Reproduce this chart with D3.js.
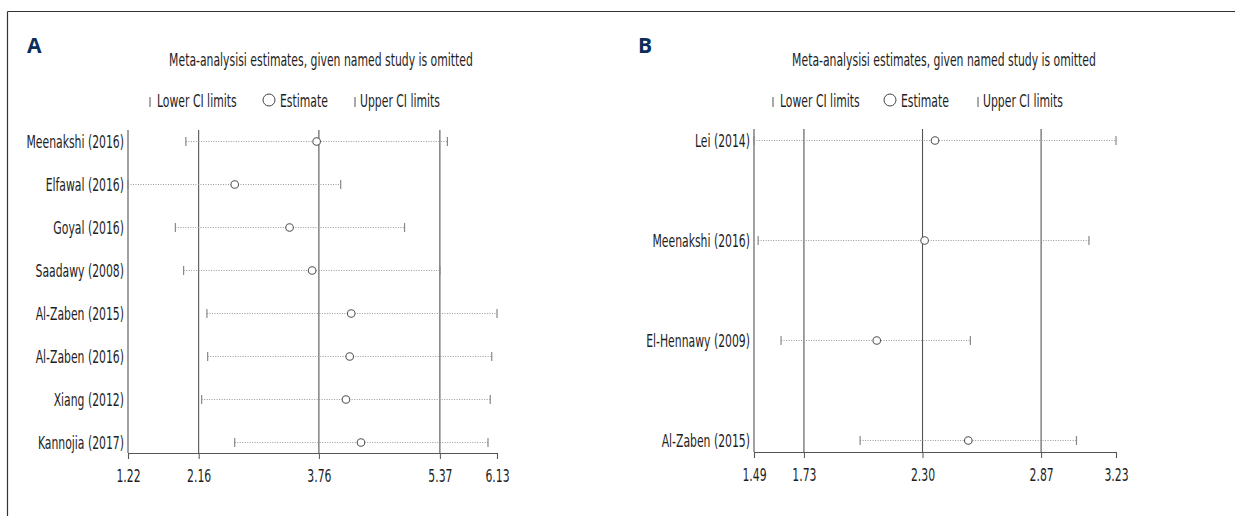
<!DOCTYPE html>
<html>
<head>
<meta charset="utf-8">
<script src="https://cdn.jsdelivr.net/npm/d3@7"></script>
<style>
  body { margin: 0; background: #fff; }
  svg text { font-family: "Liberation Sans Narrow", "DejaVu Sans Condensed", "Roboto Condensed", sans-serif; fill: #1e1e1e; font-size: 18px; }
</style>
</head>
<body>
<svg id="chart" width="1235" height="516"></svg>
<script>
// Panel A data
const studiesA = ["Meenakshi (2016)", "Elfawal (2016)", "Goyal (2016)", "Saadawy (2008)",
  "Al-Zaben (2015)", "Al-Zaben (2016)", "Xiang (2012)", "Kannojia (2017)"];
const lowerA = [1.99, 1.22, 1.85, 1.96, 2.27, 2.28, 2.20, 2.64];
const estA   = [3.73, 2.64, 3.37, 3.67, 4.19, 4.17, 4.12, 4.32];
const upperA = [5.47, 4.05, 4.90, 5.37, 6.13, 6.06, 6.04, 6.01];
const ticksA = [1.22, 2.16, 3.76, 5.37, 6.13];
const refA = [2.16, 3.76, 5.37];

// Panel B data
const studiesB = ["Lei (2014)", "Meenakshi (2016)", "El-Hennawy (2009)", "Al-Zaben (2015)"];
const lowerB = [1.49, 1.51, 1.62, 2.00];
const estB   = [2.36, 2.31, 2.08, 2.52];
const upperB = [3.23, 3.10, 2.53, 3.04];
const ticksB = [1.49, 1.73, 2.30, 2.87, 3.23];
const refB = [1.73, 2.30, 2.87];

const title = "Meta-analysisi estimates, given named study is omitted";

const svg = d3.select("#chart");

// the original uses a condensed face; measure the title and squeeze all text to match
const probe = svg.append("text").text(title);
const k = 304 / probe.node().getComputedTextLength();
probe.remove();

// condensed text helper: text at (x, y), squeezed horizontally around its anchor
function ctext(parent, x, y, str, anchor) {
  return parent.append("text")
    .attr("transform", `translate(${x},${y}) scale(${k},1)`)
    .attr("text-anchor", anchor || "start")
    .text(str);
}

// frame: top and left border
svg.append("line").attr("x1", 7.5).attr("x2", 1235).attr("y1", 11.5).attr("y2", 11.5)
  .attr("stroke", "#333").attr("stroke-width", 1.2);
svg.append("line").attr("x1", 7.5).attr("x2", 7.5).attr("y1", 11.5).attr("y2", 516)
  .attr("stroke", "#333").attr("stroke-width", 1.2);

function drawPanel(cfg) {
  const g = svg.append("g");

  // panel letter
  g.append("text").attr("x", cfg.letterX).attr("y", 53)
    .style("font-family", "'Open Sans', 'DejaVu Sans', sans-serif")
    .style("font-weight", "bold").style("font-size", "21px")
    .style("fill", "#0c2d5a").text(cfg.letter);

  // title
  ctext(g, cfg.titleX, 66, title, "middle");

  // legend
  const ly = 100;
  g.append("line").attr("x1", cfg.legX[0]).attr("x2", cfg.legX[0]).attr("y1", ly - 3).attr("y2", ly + 7)
    .attr("stroke", "#555");
  ctext(g, cfg.legX[0] + 7, ly + 6.5, "Lower CI limits");
  g.append("circle").attr("cx", cfg.legX[1]).attr("cy", ly).attr("r", 6)
    .attr("fill", "none").attr("stroke", "#444");
  ctext(g, cfg.legX[1] + 11, ly + 6.5, "Estimate");
  g.append("line").attr("x1", cfg.legX[2]).attr("x2", cfg.legX[2]).attr("y1", ly - 3).attr("y2", ly + 7)
    .attr("stroke", "#555");
  ctext(g, cfg.legX[2] + 5, ly + 6.5, "Upper CI limits");

  const x = d3.scaleLinear().domain(cfg.domain).range([cfg.left, cfg.right]);
  const y = d3.scalePoint().domain(cfg.studies).range([cfg.rowTop, cfg.rowBottom]);

  // reference lines
  g.selectAll(".ref").data(cfg.ref).enter().append("line")
    .attr("x1", d => x(d)).attr("x2", d => x(d))
    .attr("y1", cfg.top).attr("y2", cfg.axisY)
    .attr("stroke", "#555").attr("stroke-width", 1.1);

  // left axis line
  g.append("line").attr("x1", cfg.left).attr("x2", cfg.left).attr("y1", cfg.top).attr("y2", cfg.axisY)
    .attr("stroke", "#555").attr("stroke-width", 1.1);

  // bottom axis
  const axis = g.append("g").attr("transform", `translate(0,${cfg.axisY})`)
    .call(d3.axisBottom(x).tickValues(cfg.ticks).tickFormat(d3.format(".2f")).tickSize(6));
  axis.select(".domain").attr("stroke", "#555").attr("stroke-width", 1.1);
  axis.selectAll(".tick line").attr("stroke", "#555");
  axis.selectAll(".tick text")
    .attr("y", 29).attr("dy", 0)
    .attr("transform", `scale(${k},1)`)
    .style("font-size", "18px").style("fill", "#1e1e1e")
    .style("font-family", "'Liberation Sans Narrow', 'DejaVu Sans Condensed', sans-serif");

  // study labels
  cfg.studies.forEach(s => ctext(g, cfg.left - 4, y(s) + 6.5, s, "end"));

  const rows = cfg.studies.map((s, i) => ({ s, lo: cfg.lower[i], est: cfg.est[i], hi: cfg.upper[i] }));

  // dotted CI lines
  g.selectAll(".ci").data(rows).enter().append("line")
    .attr("x1", d => x(d.lo)).attr("x2", d => x(d.hi))
    .attr("y1", d => y(d.s)).attr("y2", d => y(d.s))
    .attr("stroke", "#999").attr("stroke-width", 1).attr("stroke-dasharray", "1,1.5");

  // CI end caps
  ["lo", "hi"].forEach(key => {
    g.selectAll(".cap" + key).data(rows).enter().append("line")
      .attr("x1", d => x(d[key])).attr("x2", d => x(d[key]))
      .attr("y1", d => y(d.s) - 4.5).attr("y2", d => y(d.s) + 4.5)
      .attr("stroke", "#888").attr("stroke-width", 1.2);
  });

  // estimates
  g.selectAll(".est").data(rows).enter().append("circle")
    .attr("cx", d => x(d.est)).attr("cy", d => y(d.s)).attr("r", 3.8)
    .attr("fill", "#fff").attr("stroke", "#555").attr("stroke-width", 1.1);
}

drawPanel({
  letter: "A", letterX: 27, titleX: 321, legX: [150, 269, 355],
  studies: studiesA, lower: lowerA, est: estA, upper: upperA,
  ticks: ticksA, ref: refA, domain: [1.22, 6.13],
  left: 128, right: 497, top: 130, axisY: 453, rowTop: 141.5, rowBottom: 442.5
});

drawPanel({
  letter: "B", letterX: 638, titleX: 944, legX: [773, 890, 978],
  studies: studiesB, lower: lowerB, est: estB, upper: upperB,
  ticks: ticksB, ref: refB, domain: [1.49, 3.23],
  left: 754, right: 1116, top: 129, axisY: 452, rowTop: 140.5, rowBottom: 440.5
});
</script>
</body>
</html>
